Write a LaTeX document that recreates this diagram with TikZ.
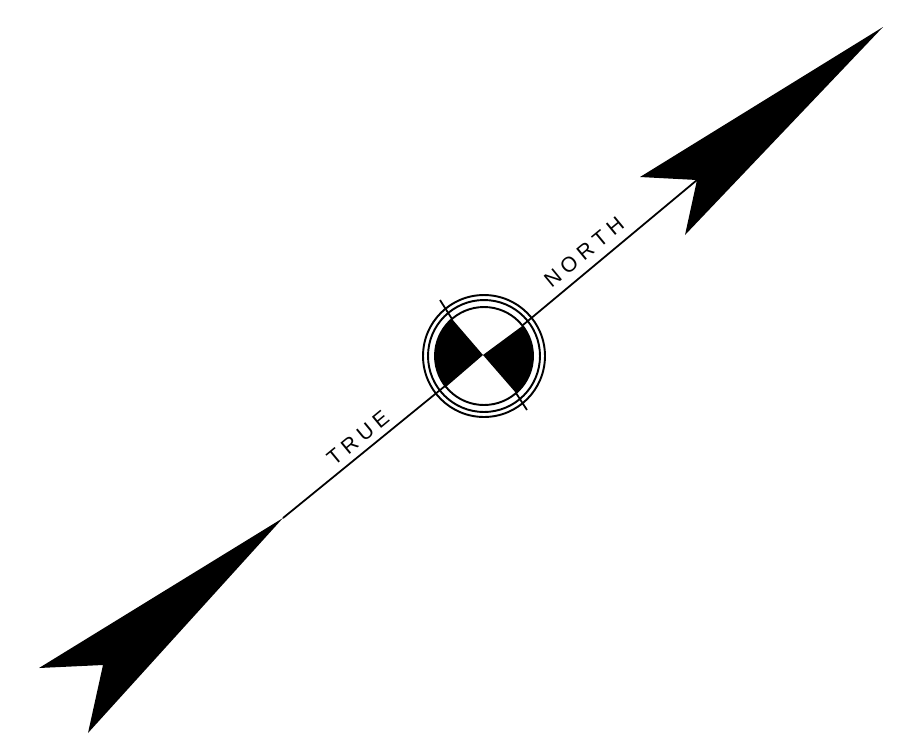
\documentclass[tikz,border=0pt]{standalone}
\usepackage{fontspec}
\setmainfont{Liberation Sans}
\tikzset{
    vane/.style={fill=black, draw=none},
    quadrant/.style={fill=black, draw=none},
    staff/.style={draw=black, line width=1pt},
    ring/.style={draw=black, line width=1.1pt, circle, inner sep=0pt},
    word/.style={font=\fontsize{12}{13}\selectfont, rotate=39.5, inner sep=0pt},
}
\begin{document}
\begin{tikzpicture}[x=0.02cm, y=-0.02cm]
    \useasboundingbox (0,0) rectangle (899,738);

    % arrow heads
    \fill[vane] (883,27) -- (640,177) -- (697,180) -- (685,235) -- cycle;
    \fill[vane] (283,518) -- (39,668) -- (103,665) -- (88,733) -- cycle;

    % rings
    \node[ring, minimum size=2.44cm] (outer) at (484,356) {};
    \node[ring, minimum size=2.24cm] (middle) at (484,356) {};
    \node[ring, minimum size=1.96cm] (inner) at (484,356) {};

    \coordinate (hub) at (483,355);
    \coordinate (headnotch) at (697,180);
    \coordinate (tailtip) at (283,518);
    \coordinate (nearne) at (523,325);
    \coordinate (nearsw) at (445,386);
    \coordinate (nearnw) at (452,319);
    \coordinate (nearse) at (516,393);
    \coordinate (staffnw) at (440,300);
    \coordinate (staffse) at (527,410);

    % dark quadrants
    \fill[quadrant] (hub) -- (nearnw) arc[start angle=229, end angle=141, radius=49] -- cycle;
    \fill[quadrant] (hub) -- (nearse) arc[start angle=49, end angle=-38, radius=49] -- cycle;

    % shaft and cross staff
    \draw[staff] (headnotch) -- (nearne);
    \draw[staff] (nearsw) -- (tailtip);
    \draw[staff] (staffnw) -- (nearnw);
    \draw[staff] (nearse) -- (staffse);

    \node[word] (north) at (584,252) {N\hspace{3pt}O\hspace{3pt}R\hspace{3pt}T\hspace{3pt}H};
    \node[word] (true) at (358,438) {T\hspace{3pt}R\hspace{3pt}U\hspace{3pt}E};
\end{tikzpicture}
\end{document}
